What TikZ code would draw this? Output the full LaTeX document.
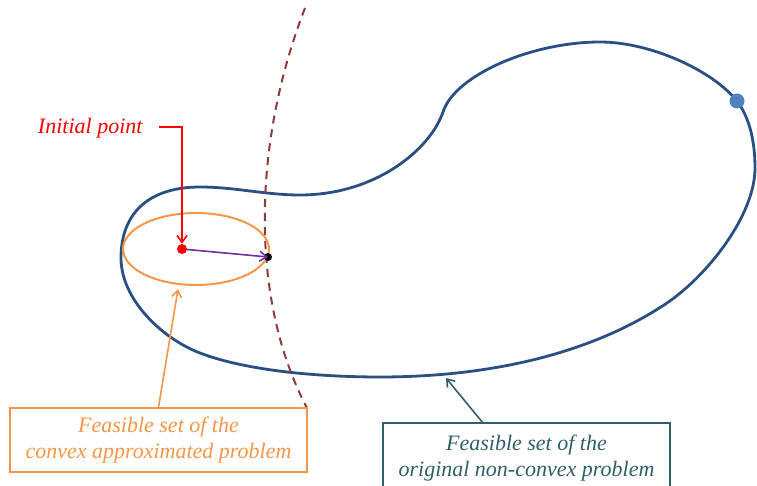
\documentclass[tikz,border=0pt]{standalone}
\usepackage{fontspec}
\setmainfont{Liberation Serif}
\usetikzlibrary{arrows.meta,shapes.geometric}
\definecolor{blobblue}{HTML}{2A4F82}
\definecolor{dotblue}{HTML}{4F81BD}
\definecolor{orng}{HTML}{F79646}
\definecolor{tealc}{HTML}{2F5F68}
\definecolor{dashred}{HTML}{8E3A3A}
\definecolor{purp}{HTML}{7030A0}
\tikzset{
  lbl/.style={font=\fontsize{22}{26}\selectfont\itshape, align=center},
  boxo/.style={draw=orng, line width=1.2pt, text=orng, lbl, minimum width=297pt, minimum height=64pt, inner sep=0pt},
  boxt/.style={draw=tealc, line width=1.2pt, text=tealc, lbl, minimum width=287pt, minimum height=70pt, inner sep=0pt},
  arr/.style={-{Straight Barb[length=7pt,width=10pt]}, line width=1.6pt},
}
\begin{document}
\begin{tikzpicture}[x=1pt,y=-1pt]
\useasboundingbox (0,0) rectangle (757,486);
% blob
\draw[blobblue, line width=2.8pt]
 (121,258) .. controls (121,212) and (150,187) .. (200,187)
 .. controls (235,187) and (265,195) .. (300,195)
 .. controls (375,195) and (430,150) .. (443,112)
 .. controls (455,75) and (532,42) .. (600,42)
 .. controls (650,42) and (712,70) .. (737,101)
 .. controls (749,117) and (755,140) .. (755,168)
 .. controls (755,215) and (708,275) .. (667,303)
 .. controls (585,358) and (479,377) .. (380,377)
 .. controls (320,377) and (247,371) .. (200,353)
 .. controls (163,339) and (121,300) .. (121,258) -- cycle;
\coordinate (curvept) at (446,378);
\node[circle, fill=dotblue, inner sep=0pt, minimum size=15pt] (bdot) at (737,101) {};
% dashed arc
\draw[dashred, line width=2pt, dash pattern=on 8pt off 6pt] (305,8) .. controls (252,145) and (250,300) .. (307,408);
% orange ellipse
\node[draw=orng, line width=2pt, ellipse, minimum width=146pt, minimum height=72pt, inner sep=0pt] (ell) at (196,249) {};
% points
\node[circle, fill=red, inner sep=0pt, minimum size=10pt] (init) at (182,249) {};
\node[circle, fill=black, inner sep=0pt, minimum size=8pt] (bnd) at (268,257) {};
\draw[purp, arr] (init) -- (bnd.center);
% initial point label
\node[lbl, text=red, anchor=east] (ilbl) at (146,128) {Initial point};
\coordinate (istart) at (159,127);
\coordinate (ibend) at (182,127);
\draw[red, arr] (istart) -- (ibend) -- (init.north);
% boxes
\node[boxo] (bo) at (158.5,440) {Feasible set of the\\convex approximated problem};
\node[boxt] (bt) at (526.5,458) {Feasible set of the\\original non-convex problem};
\coordinate (ellbot) at (178,289);
\coordinate (tstart) at (483,423);
\draw[orng, arr] (bo.north) -- (ellbot);
\draw[tealc, arr] (tstart) -- (curvept);
\end{tikzpicture}
\end{document}
